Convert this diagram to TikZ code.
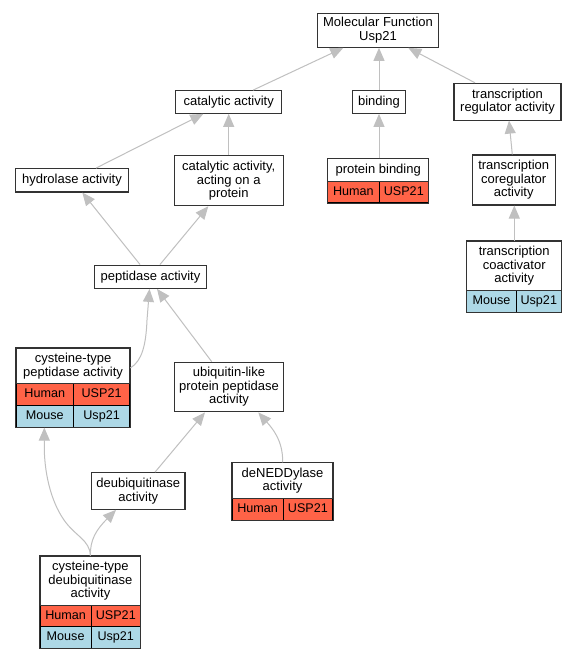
\documentclass[tikz,border=0pt]{standalone}
\usepackage{fontspec}
\setmainfont{Liberation Sans}
\usetikzlibrary{arrows.meta}
\definecolor{edgegray}{HTML}{C0C0C0}
\definecolor{boxline}{HTML}{333333}
\definecolor{humanred}{HTML}{FF6347}
\definecolor{mouseblue}{HTML}{ADD8E6}
\tikzset{
  box/.style={draw=boxline, line width=1.1pt, fill=white, align=center, inner sep=0pt,
    font=\fontsize{13}{13.4}\selectfont},
  oneline/.style={text height=9.6pt, text depth=2.8pt},
  cellh/.style={draw=black, line width=0.9pt, fill=humanred, inner sep=0pt, anchor=north west,
    font=\fontsize{12.6}{13}\selectfont, text height=9.3pt, text depth=2.7pt},
  cellm/.style={draw=black, line width=0.9pt, fill=mouseblue, inner sep=0pt, anchor=north west,
    font=\fontsize{12.6}{13}\selectfont, text height=9.3pt, text depth=2.7pt},
  recframe/.style={draw=boxline, line width=1.1pt},
  edge/.style={draw=edgegray, line width=1pt, -{Triangle[length=13pt,width=11pt]}},
}
\begin{document}
\begin{tikzpicture}[x=1pt,y=-1pt]
\useasboundingbox[fill=white] (0,0) rectangle (577,659);

% simple boxes
\node[box, minimum width=120.6pt, minimum height=34pt] (mf) at (378,30.3) {Molecular Function\\Usp21};
\node[box, oneline, minimum width=106pt, minimum height=22.6pt] (cat) at (228.7,102) {catalytic activity};
\node[box, oneline, minimum width=52.6pt, minimum height=23.3pt] (bind) at (379,101.7) {binding};
\node[box, minimum width=107pt, minimum height=36.7pt] (treg) at (507.5,101.7) {transcription\\regulator activity};
\node[box, oneline, minimum width=112.6pt, minimum height=23.3pt] (hyd) at (72,180.3) {hydrolase activity};
\node[box, minimum width=108.7pt, minimum height=50pt] (catp) at (228.7,180.7) {catalytic activity,\\acting on a\\protein};
\node[box, minimum width=82.7pt, minimum height=50pt] (tcoreg) at (513.7,180) {transcription\\coregulator\\activity};
\node[box, oneline, minimum width=112.4pt, minimum height=23.3pt] (pep) at (150.5,276.7) {peptidase activity};
\node[box, minimum width=109.7pt, minimum height=49.7pt] (ubl) at (229,387) {ubiquitin-like\\protein peptidase\\activity};
\node[box, minimum width=93.3pt, minimum height=36.6pt] (deub) at (138.3,491) {deubiquitinase\\activity};

% record: protein binding
\node[cellh, minimum width=51.4pt, minimum height=21.3pt] (pbh) at (327.3,181) {Human};
\node[cellh, minimum width=49.3pt, minimum height=21.3pt] (pbu) at (378.7,181) {USP21};
\node[box, oneline, anchor=north west, minimum width=100.7pt, minimum height=22.7pt] (pb) at (327.3,158.3) {protein binding};
\draw[recframe] (pb.north west) rectangle (pbu.south east);

% record: transcription coactivator activity
\node[cellm, minimum width=49.4pt, minimum height=21.7pt] (tcam) at (466.3,290) {Mouse};
\node[cellm, minimum width=45.3pt, minimum height=21.7pt] (tcau) at (515.7,290) {Usp21};
\node[box, anchor=north west, minimum width=94.7pt, minimum height=49.3pt] (tcoact) at (466.3,240.7) {transcription\\coactivator\\activity};
\draw[recframe] (tcoact.north west) rectangle (tcau.south east);

% record: cysteine-type peptidase activity
\node[cellh, minimum width=57.3pt, minimum height=21.7pt] (ctph) at (15.7,383.3) {Human};
\node[cellh, minimum width=56.3pt, minimum height=21.7pt] (ctphu) at (73,383.3) {USP21};
\node[cellm, minimum width=57.3pt, minimum height=21.7pt] (ctpm) at (15.7,405) {Mouse};
\node[cellm, minimum width=56.3pt, minimum height=21.7pt] (ctpmu) at (73,405) {Usp21};
\node[box, anchor=north west, minimum width=113.6pt, minimum height=35.6pt] (ctp) at (15.7,347.7) {cysteine-type\\peptidase activity};
\draw[recframe] (ctp.north west) rectangle (ctpmu.south east);

% record: deNEDDylase activity
\node[cellh, minimum width=51pt, minimum height=21.7pt] (dnh) at (231.7,498.3) {Human};
\node[cellh, minimum width=49.6pt, minimum height=21.7pt] (dnu) at (282.7,498.3) {USP21};
\node[box, anchor=north west, minimum width=100.6pt, minimum height=36pt] (dened) at (231.7,462.3) {deNEDDylase\\activity};
\draw[recframe] (dened.north west) rectangle (dnu.south east);

% record: cysteine-type deubiquitinase activity
\node[cellh, minimum width=51pt, minimum height=21pt] (ctdh) at (39.7,605) {Human};
\node[cellh, minimum width=49.3pt, minimum height=21pt] (ctdhu) at (90.7,605) {USP21};
\node[cellm, minimum width=51pt, minimum height=21.7pt] (ctdm) at (39.7,626) {Mouse};
\node[cellm, minimum width=49.3pt, minimum height=21.7pt] (ctdmu) at (90.7,626) {Usp21};
\node[box, anchor=north west, minimum width=100.3pt, minimum height=49.3pt] (ctd) at (39.7,555.7) {cysteine-type\\deubiquitinase\\activity};
\draw[recframe] (ctd.north west) rectangle (ctdmu.south east);

% edges
\draw[edge] ([xshift=24.3pt]cat.north) -- ([xshift=-34.7pt]mf.south);
\draw[edge] (bind.north) -- (bind.north |- mf.south);
\draw[edge] ([xshift=-32.5pt]treg.north) -- ([xshift=30.3pt]mf.south);
\draw[edge] ([xshift=24pt]hyd.north) -- ([xshift=-25.4pt]cat.south);
\draw[edge] (catp.north) -- (cat.south);
\draw[edge] (pb.north -| bind.south) -- (bind.south);
\draw[edge] ([xshift=-1.4pt]tcoreg.north) -- ([xshift=1.5pt]treg.south);
\draw[edge] (tcoact.north -| 514.3,0) -- (tcoreg.south -| 514.3,0);
\draw[edge] ([xshift=-10.5pt]pep.north) -- ([xshift=10.3pt]hyd.south);
\draw[edge] ([xshift=9.5pt]pep.north) -- ([xshift=-20.4pt]catp.south);
\draw[edge] ([yshift=16.5pt]ctp.south east) .. controls (142,361) and (146,345) .. (147,320) -- ([xshift=-1pt]pep.south);
\draw[edge] ([xshift=-17.3pt]ubl.north) -- ([xshift=6.5pt]pep.south);
\draw[edge] ([xshift=16.7pt]deub.north) -- ([xshift=-24pt]ubl.south);
\draw[edge] (dened.north -| dnu.north west) .. controls (283,440) and (272,428) .. ([xshift=29.3pt]ubl.south);
\draw[edge] (ctd.north) .. controls (90,540) and (75,536) .. (64,520)
   .. controls (50,500) and (44,470) .. (44.3,445) -- ([xshift=28.6pt]ctpm.south west);
\draw[edge] (ctd.north) .. controls (90,540) and (96,530) .. ([xshift=-22.3pt]deub.south);
\end{tikzpicture}
\end{document}
